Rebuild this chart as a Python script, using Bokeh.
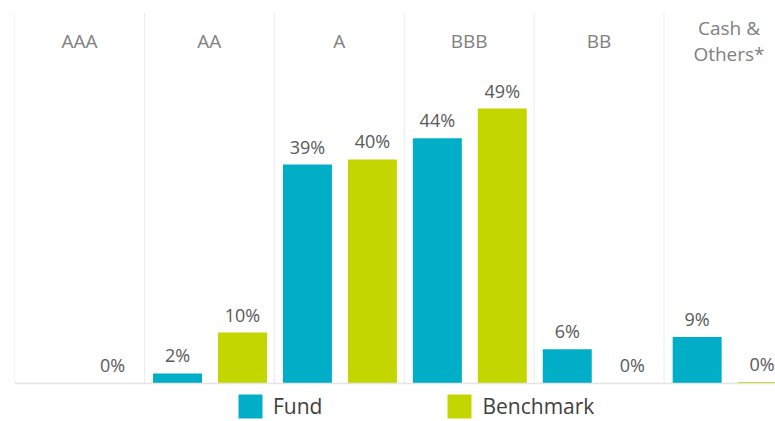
from bokeh.plotting import figure
from bokeh.models import Range1d, Span, Legend, LegendItem, ColumnDataSource
from bokeh.core.properties import value
from bokeh.embed import file_html
from bokeh.resources import INLINE

# ---- data ----
categories = ["AAA", "AA", "A", "BBB", "BB", "Cash &\nOthers*"]
fund = [0.0, 1.8, 39.1, 43.8, 6.1, 8.3]
benchmark = [0.0, 9.1, 40.0, 49.1, 0.0, 0.27]
fund_labels = ["", "2%", "39%", "44%", "6%", "9%"]
benchmark_labels = ["0%", "10%", "40%", "49%", "0%", "0%"]
series_names = ["Fund", "Benchmark"]

FUND_COLOR = "#00AEC7"
BENCH_COLOR = "#C4D600"
FONT = "Open Sans"

n = len(categories)
x_cat = [i + 0.5 for i in range(n)]
x_fund = [i + 0.255 for i in range(n)]
x_bench = [i + 0.755 for i in range(n)]
bar_w = 0.377
Y_TOP = 66.25

p = figure(width=775, height=421, output_backend="svg", toolbar_location=None,
           x_range=Range1d(0, 5.858), y_range=Range1d(-6.786, Y_TOP),
           x_axis_type=None, y_axis_type=None,
           min_border_left=14, min_border_right=0, min_border_top=12, min_border_bottom=0)
p.outline_line_color = None
p.background_fill_color = "white"
p.border_fill_color = "white"

# vertical separators
bounds = list(range(n + 1))
p.segment(x0=bounds, x1=bounds, y0=[0] * len(bounds), y1=[Y_TOP] * len(bounds),
          line_color="#ececec", line_width=1)
p.add_layout(Span(location=0, dimension="width", line_color="#e4e4e4", line_width=1.5))

src = ColumnDataSource(dict(xf=x_fund, xb=x_bench, fund=fund, bench=benchmark,
                            fl=fund_labels, bl=benchmark_labels))
rf = p.vbar(x="xf", top="fund", bottom=0, width=bar_w, source=src,
            fill_color=FUND_COLOR, line_color=None)
rb = p.vbar(x="xb", top="bench", bottom=0, width=bar_w, source=src,
            fill_color=BENCH_COLOR, line_color=None)

p.text(x="xf", y="fund", text="fl", source=src, text_align="center",
       text_baseline="bottom", y_offset=-6, text_font=value(FONT),
       text_font_size="18px", text_color="#595959")
p.text(x="xb", y="bench", text="bl", source=src, text_align="center",
       text_baseline="bottom", y_offset=-6, text_font=value(FONT),
       text_font_size="18px", text_color="#595959")

p.text(x=x_cat, y=[61.1] * n, text=categories, text_align="center",
       text_baseline="middle", text_font=value(FONT), text_font_size="19px",
       text_color="#808080", text_line_height=1.0)

legend = Legend(items=[LegendItem(label=series_names[0], renderers=[rf]),
                       LegendItem(label=series_names[1], renderers=[rb])],
                orientation="horizontal", location=(221, 0),
                glyph_width=30, glyph_height=30, label_standoff=8, spacing=122,
                padding=0, margin=0, border_line_color=None, background_fill_alpha=0,
                label_text_font=FONT, label_text_font_size="21px",
                label_text_color="#404040")
p.add_layout(legend)

open("out.html", "w").write(file_html(p, INLINE))
